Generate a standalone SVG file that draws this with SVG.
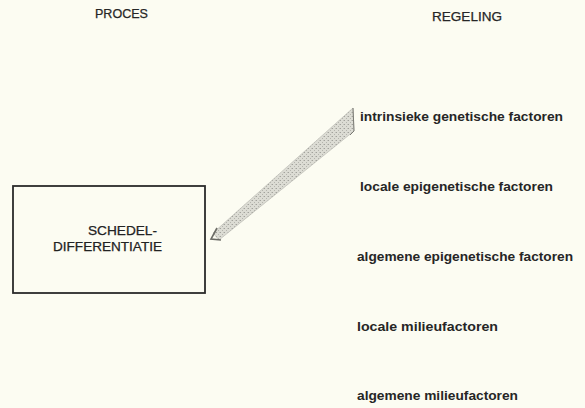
<svg xmlns="http://www.w3.org/2000/svg" width="585" height="408" viewBox="0 0 585 408">
  <style>
    .hdr { font-family: "Liberation Sans", Arial, sans-serif; font-size: 12.5px; fill: #262626; stroke: #262626; stroke-width: 0.25; }
    .box-label { font-family: "Liberation Sans", Arial, sans-serif; font-size: 13px; fill: #222; stroke: #222; stroke-width: 0.25; }
    .factor { font-family: "Liberation Sans", Arial, sans-serif; font-size: 13px; font-weight: bold; fill: #262626; }
    .box { fill: none; stroke: #2b2b2b; stroke-width: 1.8; }
    .band { fill: url(#stipple); stroke: #b5b5ae; stroke-width: 0.6; }
    .band-edge { fill: none; stroke: #7a7a74; stroke-width: 1; }
    .head { fill: none; stroke: #6c6c66; stroke-width: 1.6; stroke-linejoin: miter; }
  </style>
  <defs>
    <pattern id="stipple" width="4" height="4" patternUnits="userSpaceOnUse">
      <rect width="4" height="4" fill="#dcdcd4"/>
      <rect x="0" y="0" width="1" height="1" fill="#a2a29c"/>
      <rect x="2" y="2" width="1" height="1" fill="#b4b4ad"/>
      <rect x="3" y="0" width="1" height="1" fill="#c4c4bd"/>
    </pattern>
  </defs>
  <rect width="585" height="408" fill="#fcfcf2"/>

  <g id="headers">
    <text class="hdr" x="95" y="18" textLength="53" lengthAdjust="spacingAndGlyphs">PROCES</text>
    <text class="hdr" x="432" y="20.5" textLength="70" lengthAdjust="spacingAndGlyphs">REGELING</text>
  </g>

  <g id="node-schedeldifferentiatie">
    <rect class="box" x="13" y="186" width="192" height="107"/>
    <text class="box-label" x="88" y="235" textLength="69" lengthAdjust="spacingAndGlyphs">SCHEDEL-</text>
    <text class="box-label" x="53" y="250.5" textLength="109" lengthAdjust="spacingAndGlyphs">DIFFERENTIATIE</text>
  </g>

  <g id="node-intrinsieke">
    <text class="factor" x="360" y="121" textLength="203" lengthAdjust="spacingAndGlyphs">intrinsieke genetische factoren</text>
  </g>
  <g id="node-locale-epigenetische">
    <text class="factor" x="360" y="191" textLength="193" lengthAdjust="spacingAndGlyphs">locale epigenetische factoren</text>
  </g>
  <g id="node-algemene-epigenetische">
    <text class="factor" x="357" y="261" textLength="216" lengthAdjust="spacingAndGlyphs">algemene epigenetische factoren</text>
  </g>
  <g id="node-locale-milieu">
    <text class="factor" x="357" y="331" textLength="141" lengthAdjust="spacingAndGlyphs">locale milieufactoren</text>
  </g>
  <g id="node-algemene-milieu">
    <text class="factor" x="357" y="400" textLength="161" lengthAdjust="spacingAndGlyphs">algemene milieufactoren</text>
  </g>

  <g id="connectors">
    <polygon class="band" points="353,108 354,131 219,240 213,233"/>
    <polyline class="band-edge" points="353,108 354,131 350,135"/>
    <polyline class="head" points="217,228 211,239 221,240"/>
  </g>
</svg>
